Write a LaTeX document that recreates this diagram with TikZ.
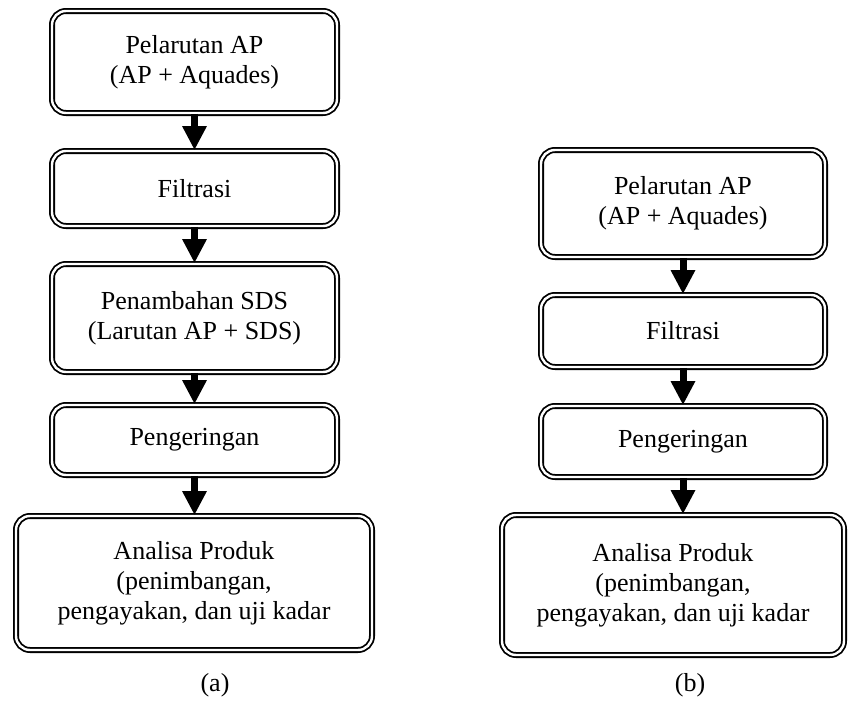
\documentclass[tikz,border=0pt]{standalone}
\usepackage{fontspec}
\setmainfont{Liberation Serif}
\usepackage{tikz}
\usetikzlibrary{arrows.meta}

\tikzset{
  stepbox/.style={draw, double, double distance=1.2pt, line width=0.9pt,
    rounded corners=7pt, align=center, inner sep=0pt,
    font=\fontsize{13}{15}\selectfont},
  flow/.style={line width=3.5pt, -{Triangle[width=11.5pt,length=12pt]}},
  caption/.style={font=\fontsize{13}{15}\selectfont}
}

\begin{document}
\begin{tikzpicture}[x=0.5pt, y=-0.5pt]

  \useasboundingbox (0,0) rectangle (848,702);

  % Column (a)
  \node[stepbox, minimum width=142.5pt, minimum height=51pt] (a1) at (194.5,62)
    {Pelarutan AP\\(AP + Aquades)};
  \node[stepbox, minimum width=142.5pt, minimum height=37.5pt] (a2) at (194.5,188.5)
    {Filtrasi};
  \node[stepbox, minimum width=142.5pt, minimum height=54pt] (a3) at (194.5,318)
    {Penambahan SDS\\(Larutan AP + SDS)};
  \node[stepbox, minimum width=142.5pt, minimum height=35pt] (a4) at (194.5,440)
    {Pengeringan};
  \node[stepbox, minimum width=178pt, minimum height=67pt] (a5) at (194,583)
    {Analisa Produk\\(penimbangan,\\pengayakan, dan uji kadar};

  % Column (b)
  \node[stepbox, minimum width=142pt, minimum height=53.5pt] (b1) at (683,203.5)
    {Pelarutan AP\\(AP + Aquades)};
  \node[stepbox, minimum width=142pt, minimum height=36pt] (b2) at (683,331)
    {Filtrasi};
  \node[stepbox, minimum width=142pt, minimum height=35.5pt] (b3) at (683,441.5)
    {Pengeringan};
  \node[stepbox, minimum width=171pt, minimum height=70pt] (b4) at (673,585)
    {Analisa Produk\\(penimbangan,\\pengayakan, dan uji kadar};

  % Arrows
  \foreach \u/\v in {a1/a2, a2/a3, a3/a4, a4/a5, b1/b2, b2/b3, b3/b4}{
    \draw[flow] (\u.south) -- (\u.south |- \v.north);
  }

  % Captions
  \node[caption] (capa) at (215,685) {(a)};
  \node[caption] (capb) at (690,685) {(b)};

\end{tikzpicture}
\end{document}
